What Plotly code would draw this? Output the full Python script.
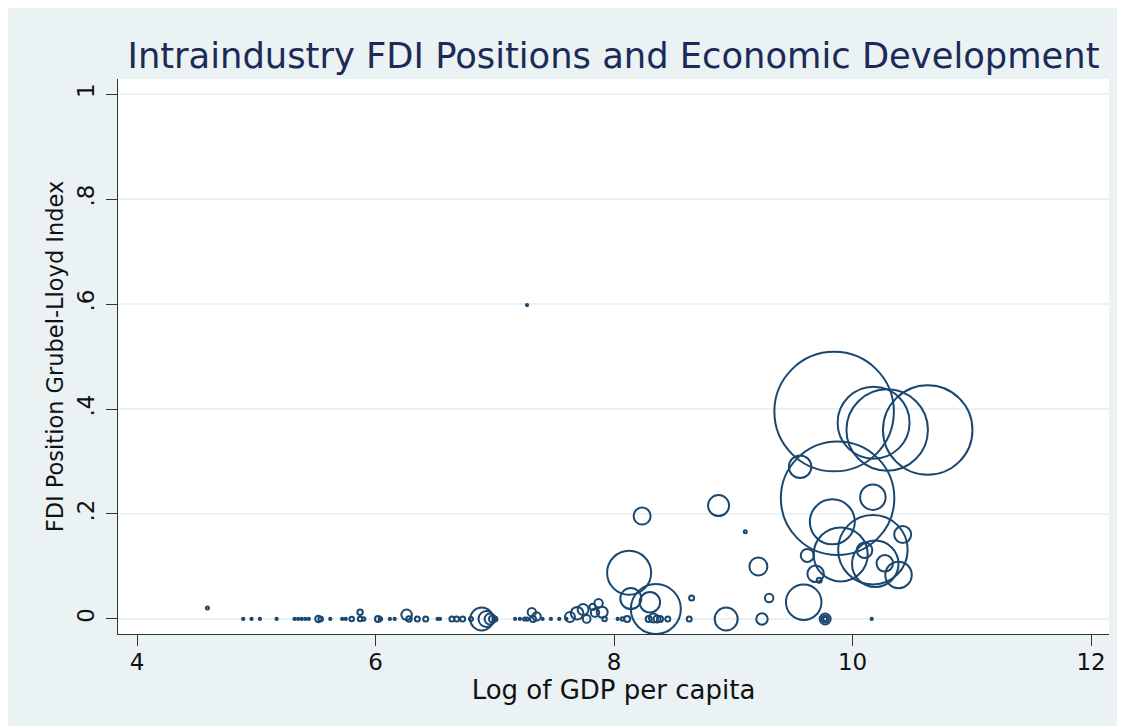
import plotly.graph_objects as go

# ---- data ----
log_gdp_pc = [
    # upper-right cluster
    9.845, 10.176, 10.29, 10.63, 9.56, 9.874, 10.17, 8.876, 9.10, 9.83,
    10.17, 9.90, 10.42, 10.10, 10.19, 9.62, 10.27, 10.385, 9.69, 9.72,
    9.21, 9.30, 9.59, 8.94, 9.24, 9.77, 9.77, 9.77, 10.16,
    # 8.0 - 8.7
    8.03, 8.07, 8.11, 8.126, 8.14, 8.235, 8.30, 8.35, 8.29, 8.33,
    8.36, 8.385, 8.45, 8.63, 8.65,
    # 7.5 - 7.95
    7.60, 7.63, 7.69, 7.74, 7.77, 7.82, 7.84, 7.87, 7.90, 7.92,
    # 7.0 - 7.55
    7.17, 7.21, 7.25, 7.27, 7.31, 7.32, 7.35, 7.40, 7.47, 7.54, 7.27,
    # 6.9 cluster
    6.89, 6.93, 6.96, 6.98, 7.00,
    # lower-left
    4.59, 4.89, 4.96, 5.03, 5.17, 5.32, 5.35, 5.38, 5.41, 5.44,
    5.52, 5.54, 5.62, 5.72, 5.75, 5.80, 5.87, 5.87, 5.90, 6.02,
    6.04, 6.12, 6.16, 6.26, 6.28, 6.35, 6.42, 6.52, 6.54, 6.64,
    6.68, 6.73, 6.80,
]
gl_index = [
    0.395, 0.374, 0.36, 0.36, 0.29, 0.230, 0.232, 0.216, 0.166, 0.185,
    0.132, 0.123, 0.161, 0.131, 0.105, 0.121, 0.106, 0.084, 0.086, 0.074,
    0.100, 0.040, 0.032, 0.0, 0.0, 0.0, 0.0, 0.0, 0.0,
    0.0, 0.0, 0.0, 0.088, 0.039, 0.196, 0.032, 0.019, 0.0, 0.002,
    0.0, 0.0, 0.0, 0.0, 0.040,
    0.0, 0.004, 0.011, 0.018, 0.0, 0.023, 0.012, 0.030, 0.013, 0.0,
    0.0, 0.0, 0.0, 0.0, 0.013, 0.0, 0.005, 0.0, 0.0, 0.0, 0.598,
    0.0, 0.0, 0.0, 0.0, 0.0,
    0.021, 0.0, 0.0, 0.0, 0.0, 0.0, 0.0, 0.0, 0.0, 0.0,
    0.0, 0.0, 0.0, 0.0, 0.0, 0.0, 0.013, 0.0, 0.0, 0.0,
    0.0, 0.0, 0.0, 0.008, 0.0, 0.0, 0.0, 0.0, 0.0, 0.0,
    0.0, 0.0, 0.0,
]
fdi_weight = [
    142.8, 51.8, 66.4, 80.1, 5.06, 128.8, 6.5, 4.41, 0.09, 20.25,
    48.3, 29.2, 2.89, 2.4, 21.6, 1.69, 2.72, 7.02, 2.72, 0.25,
    3.24, 0.72, 12.6, 5.29, 1.32, 1.2, 0.5, 0.16, 0.05,
    0.05, 0.12, 0.36, 19.4, 4.41, 2.89, 4.2, 25.0, 0.36, 0.81,
    0.49, 0.36, 0.25, 0.25, 0.25,
    0.05, 1.0, 1.6, 1.2, 0.6, 0.4, 0.7, 0.7, 1.2, 0.2,
    0.05, 0.05, 0.1, 0.1, 0.7, 0.36, 0.7, 0.05, 0.05, 0.05, 0.05,
    5.29, 2.56, 1.21, 0.49, 0.25,
    0.09, 0.05, 0.05, 0.05, 0.05, 0.05, 0.05, 0.05, 0.05, 0.05,
    0.4, 0.2, 0.05, 0.05, 0.05, 0.2, 0.3, 0.2, 0.12, 0.36,
    0.12, 0.05, 0.05, 1.1, 0.3, 0.25, 0.25, 0.05, 0.05, 0.25,
    0.25, 0.25, 0.16,
]

x_ticks = [4, 6, 8, 10, 12]
y_ticks = [0, 0.2, 0.4, 0.6, 0.8, 1]
y_tick_labels = ["0", ".2", ".4", ".6", ".8", "1"]

title_text = "Intraindustry FDI Positions and Economic Development"
x_title = "Log of GDP per capita"
y_title = "FDI Position Grubel-Lloyd Index"

# ---- styling ----
BG = "#eaf2f3"
NAVY = "#1a476f"
FONT = "DejaVu Sans"

fig = go.Figure()
fig.add_trace(go.Scatter(
    x=log_gdp_pc, y=gl_index, mode="markers",
    marker=dict(
        size=fdi_weight, sizemode="area", sizeref=0.02, sizemin=0,
        symbol="circle-open", color=NAVY, opacity=1,
        line=dict(color=NAVY, width=2),
    ),
    hoverinfo="x+y",
    showlegend=False,
))

fig.update_layout(
    width=1125, height=726,
    margin=dict(l=110, r=24, t=71, b=100, autoexpand=False),
    paper_bgcolor=BG, plot_bgcolor="white",
    font=dict(family=FONT, color="#111111"),
    title=dict(
        text=title_text, x=0.5, xref="paper", xanchor="center",
        y=1 - 48 / 726, yref="container", yanchor="middle",
        font=dict(family=FONT, size=35.3, color="#1c2a57"),
    ),
    xaxis=dict(
        range=[3.84, 12.15], tickvals=x_ticks, ticktext=[str(v) for v in x_ticks],
        showgrid=False, zeroline=False, showline=True, linecolor="#333333",
        linewidth=1, ticks="outside", ticklen=11, tickwidth=1, tickcolor="#333333",
        tickfont=dict(size=23), automargin=False, ticklabelstandoff=-4,
        title=dict(text=x_title, font=dict(size=26), standoff=4),
    ),
    yaxis=dict(
        range=[-0.0286, 1.0286], tickvals=y_ticks, ticktext=y_tick_labels,
        tickangle=-90,
        showgrid=True, gridcolor=BG, gridwidth=2,
        zeroline=False, showline=True, linecolor="#333333",
        linewidth=1, ticks="outside", ticklen=11, tickwidth=1, tickcolor="#333333",
        tickfont=dict(size=23), automargin=False, ticklabelstandoff=3,
        title=dict(text=y_title, font=dict(size=22.5), standoff=2),
    ),
)

fig.write_html("out.html")
